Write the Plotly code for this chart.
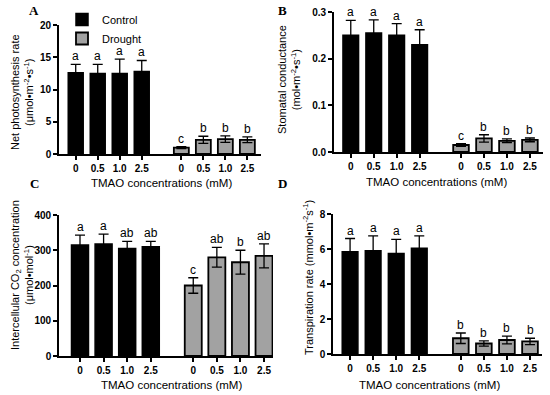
import plotly.graph_objects as go

# ---------------- data ----------------
tick_labels = ["0", "0.5", "1.0", "2.5", "0", "0.5", "1.0", "2.5"]
positions = [0, 1, 2, 3, 4.8, 5.8, 6.8, 7.8]

A_ctrl = [12.6, 12.5, 12.5, 12.8]
A_ctrl_err = [1.3, 1.4, 2.2, 1.7]
A_dr = [1.0, 2.2, 2.3, 2.2]
A_dr_err = [0.15, 0.55, 0.5, 0.45]
A_letters = ["a", "a", "a", "a", "c", "b", "b", "b"]

B_ctrl = [0.25, 0.255, 0.25, 0.23]
B_ctrl_err = [0.032, 0.028, 0.025, 0.032]
B_dr = [0.015, 0.029, 0.024, 0.026]
B_dr_err = [0.003, 0.008, 0.004, 0.004]
B_letters = ["a", "a", "a", "a", "c", "b", "b", "b"]

C_ctrl = [315, 318, 305, 310]
C_ctrl_err = [28, 28, 20, 15]
C_dr = [200, 280, 266, 284]
C_dr_err = [22, 28, 34, 34]
C_letters = ["a", "a", "ab", "ab", "c", "ab", "b", "ab"]

D_ctrl = [5.85, 5.9, 5.75, 6.05]
D_ctrl_err = [0.75, 0.85, 0.8, 0.7]
D_dr = [0.9, 0.6, 0.8, 0.72]
D_dr_err = [0.3, 0.15, 0.22, 0.18]
D_letters = ["a", "a", "a", "a", "b", "b", "b", "b"]

# ---------------- styling ----------------
W, H = 550, 395
SANS = "Liberation Sans, Arial, sans-serif"
SERIF = "Liberation Serif, Times New Roman, serif"
GRAY = "#a2a2a2"

panels = [
    ("A", A_ctrl, A_ctrl_err, A_dr, A_dr_err, A_letters, (59, 261), (25, 154), [-0.76, 8.42], [0, 20], 5, "", 0.68),
    ("B", B_ctrl, B_ctrl_err, B_dr, B_dr_err, B_letters, (334, 543), (12, 152), [-0.73, 8.37], [0, 0.3], 0.1, ".1f", 0.68),
    ("C", C_ctrl, C_ctrl_err, C_dr, C_dr_err, C_letters, (59, 273), (215, 356), [-0.89, 8.18], [0, 400], 100, "", 0.72),
    ("D", D_ctrl, D_ctrl_err, D_dr, D_dr_err, D_letters, (333, 542), (214, 354), [-0.74, 8.32], [0, 8], 2, "", 0.68),
]

fig = go.Figure()
annotations = []

for i, (name, ctrl, cerr, dr, derr, letters, xd, yd, xr, yr, dt, fmt, bw) in enumerate(panels):
    sfx = "" if i == 0 else str(i + 1)
    xa, ya = "x" + sfx, "y" + sfx
    err_style = dict(type="data", symmetric=True, color="black", thickness=1.3, width=5)
    fig.add_trace(go.Bar(
        x=positions[:4], y=ctrl, width=bw, name="Control",
        marker=dict(color="black", line=dict(color="black", width=1.5)),
        error_y=dict(array=cerr, **err_style),
        xaxis=xa, yaxis=ya, showlegend=(i == 0),
    ))
    fig.add_trace(go.Bar(
        x=positions[4:], y=dr, width=bw, name="Drought",
        marker=dict(color=GRAY, line=dict(color="black", width=1.8)),
        error_y=dict(array=derr, **err_style),
        xaxis=xa, yaxis=ya, showlegend=(i == 0),
    ))
    tops = [v + e for v, e in zip(ctrl + dr, cerr + derr)]
    for xp, tp, lt in zip(positions, tops, letters):
        annotations.append(dict(
            x=xp, y=tp, xref=xa, yref=ya, text=lt, showarrow=False,
            yanchor="bottom", yshift=-1, font=dict(family=SANS, size=12, color="black"),
        ))
    axis_common = dict(
        showline=True, linecolor="black", linewidth=1.6, ticks="outside",
        ticklen=4, tickwidth=1.5, tickcolor="black", showgrid=False, zeroline=False,
        automargin=False,
        tickfont=dict(family=SANS, size=10, color="black", weight="bold"),
    )
    xkey = "xaxis" + sfx
    ykey = "yaxis" + sfx
    fig.update_layout(**{
        xkey: dict(domain=[xd[0] / W, xd[1] / W], range=xr, tickmode="array",
                   tickvals=positions, ticktext=tick_labels, anchor=ya, **axis_common),
        ykey: dict(domain=[1 - yd[1] / H, 1 - yd[0] / H], range=yr, dtick=dt,
                   tick0=0, tickformat=fmt, anchor=xa, **axis_common),
    })

# x-axis titles
for (cx, cy) in [(161, 183), (436, 182), (171, 385), (429, 385)]:
    annotations.append(dict(x=cx / W, y=1 - cy / H, xref="paper", yref="paper",
                            text="TMAO concentrations (mM)", showarrow=False,
                            xanchor="center", yanchor="middle",
                            font=dict(family=SANS, size=11.5, color="black")))

# y-axis titles
ytitles = [
    ("Net photosynthesis rate<br>(μmol•m<sup>-2</sup>•s<sup>-1</sup>)", 22, 92),
    ("Stomatal conductance<br>(mol•m<sup>-2</sup>•s<sup>-1</sup>)", 289, 80),
    ("Intercellular CO<sub>2</sub> concentration<br>(μmol•mol<sup>-1</sup>)", 22, 275),
    ("Transpiration rate (mmol•m<sup>-2</sup>s<sup>-1</sup>)", 308, 278),
]
for txt, cx, cy in ytitles:
    annotations.append(dict(x=cx / W, y=1 - cy / H, xref="paper", yref="paper",
                            text=txt, showarrow=False, textangle=-90,
                            xanchor="center", yanchor="middle",
                            font=dict(family=SANS, size=11, color="black")))

# panel letters
for lt, cx, cy in [("A", 34, 10), ("B", 282, 10), ("C", 34, 183), ("D", 282, 183)]:
    annotations.append(dict(x=cx / W, y=1 - cy / H, xref="paper", yref="paper",
                            text="<b>" + lt + "</b>", showarrow=False,
                            xanchor="center", yanchor="middle",
                            font=dict(family=SERIF, size=13, color="black")))

fig.update_layout(
    width=W, height=H, margin=dict(l=0, r=0, t=0, b=0),
    paper_bgcolor="white", plot_bgcolor="white",
    annotations=annotations, barmode="overlay",
    legend=dict(x=62 / W, y=1 - 5 / H, xanchor="left", yanchor="top",
                font=dict(family=SANS, size=11, color="black"),
                bgcolor="rgba(0,0,0,0)", tracegroupgap=0),
)

fig.write_html("out.html", config={"displayModeBar": False},
               post_script="document.body.style.margin='0';document.body.style.padding='0';")
